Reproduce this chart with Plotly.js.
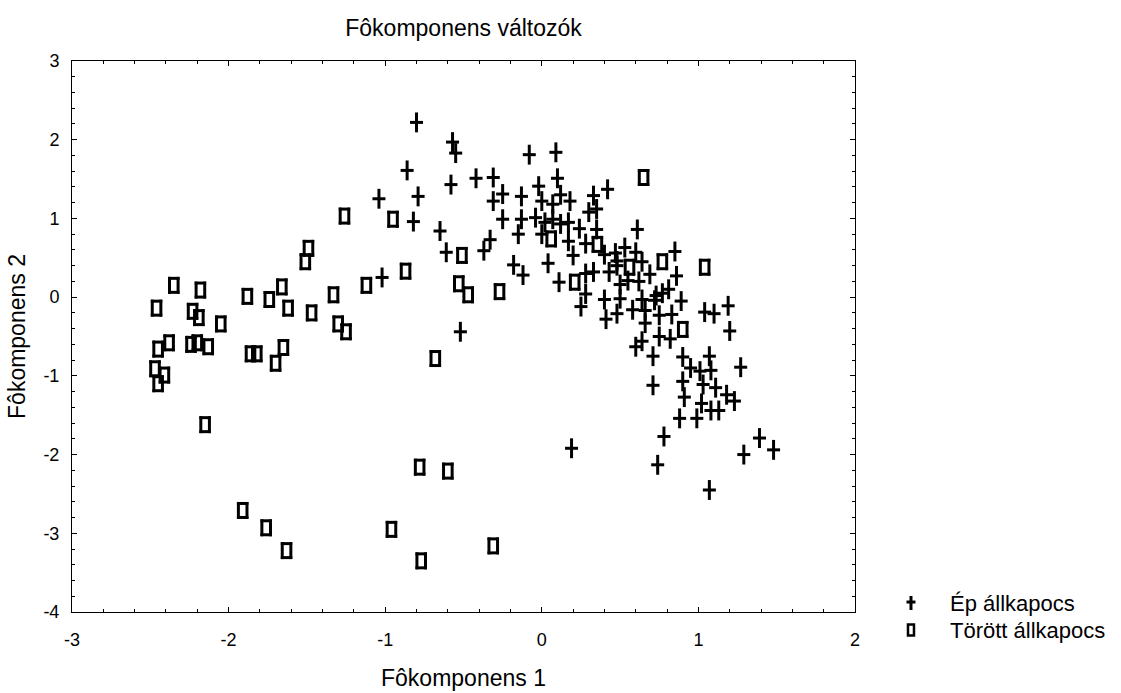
<!DOCTYPE html>
<html>
<head>
<meta charset="utf-8">
<script src="https://cdn.plot.ly/plotly-3.0.1.min.js"></script>
<style>html,body{margin:0;padding:0;background:#fff;}#chart{width:1121px;height:693px;}</style>
</head>
<body>
<div id="chart"></div>
<script>
// Ép állkapocs (intact) – Fôkomponens 1 / Fôkomponens 2
const epX = [-1.04,-1.02,-0.80,-0.86,-0.79,-0.82,-0.65,-0.61,-0.57,-0.55,-0.58,-0.52,-0.42,-0.31,-0.25,-0.31,-0.13,-0.08,0.09,0.10,-0.02,0.12,0.18,0.00,0.07,0.33,0.42,0.30,0.35,-0.25,-0.13,-0.04,0.07,0.02,0.12,0.17,0.24,0.35,-0.15,0.00,-0.33,-0.37,0.17,0.28,0.20,0.40,0.47,0.04,-0.18,-0.12,0.11,0.28,0.33,0.43,0.28,0.48,0.25,0.40,0.41,0.48,0.50,0.50,0.48,0.53,0.60,0.61,0.64,0.62,0.64,0.58,0.66,0.66,0.64,0.60,0.69,0.72,0.73,0.77,0.81,0.85,0.86,0.89,0.75,0.83,0.75,0.82,0.71,0.71,1.04,1.10,1.19,1.20,0.90,0.95,1.01,1.07,1.08,1.27,0.90,1.03,1.11,1.18,1.23,0.91,1.02,1.08,1.13,0.88,0.99,0.78,1.39,1.48,1.29,0.74,1.07,0.19,0.55];
const epY = [1.25,0.25,2.22,1.61,1.28,0.96,0.84,0.57,1.97,1.83,1.43,-0.44,1.51,1.52,1.31,1.22,1.28,1.81,1.84,1.51,1.41,1.30,1.22,1.22,1.18,1.29,1.37,1.08,1.12,0.99,0.99,1.01,0.99,0.95,0.93,0.95,0.87,0.86,0.80,0.80,0.73,0.59,0.71,0.68,0.53,0.54,0.56,0.43,0.41,0.28,0.19,0.30,0.32,0.32,0.04,0.40,-0.12,-0.03,-0.28,-0.21,-0.02,0.16,0.46,0.63,0.57,0.86,0.45,0.20,-0.03,-0.16,-0.17,-0.33,-0.56,-0.63,0.29,-0.04,0.02,0.05,0.10,0.58,0.27,-0.05,-0.23,-0.22,-0.50,-0.53,-0.75,-1.12,-0.19,-0.21,-0.11,-0.43,-0.76,-0.90,-0.94,-0.75,-0.93,-0.89,-1.07,-1.11,-1.15,-1.24,-1.32,-1.27,-1.35,-1.44,-1.44,-1.54,-1.54,-1.77,-1.79,-1.94,-2.00,-2.13,-2.45,-1.92,0.21];

// Törött állkapocs (fractured)
const torX = [-2.46,-2.35,-2.18,-2.23,-2.19,-2.05,-1.88,-1.74,-1.66,-1.62,-1.47,-1.33,-1.30,-1.25,-1.12,-2.38,-2.45,-2.47,-2.41,-2.45,-2.24,-2.20,-2.13,-1.86,-1.82,-1.65,-1.70,-2.15,-1.91,-1.76,-1.63,-0.96,-0.78,-0.77,-0.60,-0.31,-0.68,-1.26,-1.49,-1.51,-0.95,-0.87,-0.51,-0.53,-0.47,-0.27,0.06,0.355,0.21,0.56,0.77,1.04,0.90,0.65];
const torY = [-0.14,0.15,0.09,-0.18,-0.26,-0.34,0.01,-0.03,0.13,-0.14,-0.20,0.03,-0.34,-0.44,0.15,-0.58,-0.66,-0.91,-0.99,-1.10,-0.60,-0.58,-0.63,-0.72,-0.72,-0.64,-0.84,-1.62,-2.71,-2.93,-3.22,-2.95,-2.16,-3.35,-2.21,-3.16,-0.78,1.03,0.62,0.45,0.99,0.33,0.53,0.17,0.03,0.07,0.74,0.67,0.19,0.38,0.45,0.38,-0.41,1.52];

const seriesNames = ["Ép állkapocs", "Törött állkapocs"];
const xTicks = [-3,-2,-1,0,1,2];
const xTickText = ["-3","-2","-1","0","1","2"];
const yTicks = [-4,-3,-2,-1,0,1,2,3];
const yTickText = ["-4","-3","-2","-1","0","1","2","3"];

const INK = '#000000';
const FONT = 'Liberation Sans, Arial, Helvetica, sans-serif';

// rectangle marker (tall open box) built from four edge markers
function rectEdge(symbol, size, angle, standoff) {
  return {
    x: torX, y: torY, type: 'scatter', mode: 'markers', name: seriesNames[1],
    showlegend: false, hoverinfo: 'skip', cliponaxis: false,
    marker: {symbol: symbol, size: size, angle: angle, standoff: standoff,
             color: INK, line: {width: 3, color: INK}}
  };
}
function crossPart(symbol, size) {
  return {
    x: epX, y: epY, type: 'scatter', mode: 'markers', name: seriesNames[0],
    showlegend: false, hoverinfo: 'skip', cliponaxis: false,
    marker: {symbol: symbol, size: size, color: INK, line: {width: 3, color: INK}}
  };
}

const traces = [
  rectEdge('line-ew-open', 8.2, 0, 7),
  rectEdge('line-ew-open', 8.2, 180, 7),
  rectEdge('line-ew-open', 12.1, 90, 4.3),
  rectEdge('line-ew-open', 12.1, 270, 4.3),
  crossPart('line-ns-open', 14.2),
  crossPart('line-ew-open', 9.3)
];

const axisCommon = {
  showgrid: false, zeroline: false, showline: true, mirror: 'ticks',
  linecolor: INK, linewidth: 1, ticks: 'inside', ticklen: 5, tickwidth: 1, tickcolor: INK,
  tickfont: {family: FONT, size: 18, color: INK},
  minor: {dtick: 0.2, ticks: 'inside', ticklen: 3, tickwidth: 1, tickcolor: INK, showgrid: false}
};

// legend drawn as layout decoration at the right of the frame
const legendShapes = [
  {type:'line', xref:'paper', yref:'paper', xsizemode:'pixel', ysizemode:'pixel', xanchor:1.0715, yanchor:0.0163, x0:0, x1:0, y0:-7, y1:7, line:{color:INK, width:3}},
  {type:'line', xref:'paper', yref:'paper', xsizemode:'pixel', ysizemode:'pixel', xanchor:1.0715, yanchor:0.0163, x0:-4.5, x1:4.5, y0:1, y1:1, line:{color:INK, width:3}},
  {type:'rect', xref:'paper', yref:'paper', xsizemode:'pixel', ysizemode:'pixel', xanchor:1.0715, yanchor:-0.0327, x0:-3, x1:3, y0:-5.5, y1:5.5, line:{color:INK, width:2.5}}
];

const layout = {
  width: 1121, height: 693,
  paper_bgcolor: '#ffffff', plot_bgcolor: '#ffffff',
  margin: {l: 72, r: 266, t: 61, b: 81},
  font: {family: FONT, size: 18, color: INK},
  showlegend: false,
  title: {text: 'Fôkomponens változók', font: {family: FONT, size: 23, color: INK},
          x: 0.4135, xanchor: 'center', xref: 'container', y: 1 - 28/693, yanchor: 'middle', yref: 'container'},
  xaxis: Object.assign({}, axisCommon, {
    range: [-3, 2], tickvals: xTicks, ticktext: xTickText, ticklabelstandoff: 11,
    title: {text: 'Fôkomponens 1', font: {family: FONT, size: 23, color: INK}, standoff: 21}
  }),
  yaxis: Object.assign({}, axisCommon, {
    range: [-4, 3], tickvals: yTicks, ticktext: yTickText, ticklabelstandoff: 8,
    title: {text: 'Fôkomponens 2', font: {family: FONT, size: 23, color: INK}, standoff: 11}
  }),
  shapes: legendShapes,
  annotations: [
    {xref:'paper', yref:'paper', x:1.119, y:0.0163, xanchor:'left', yanchor:'middle', showarrow:false,
     text: seriesNames[0], font:{family: FONT, size: 22, color: INK}},
    {xref:'paper', yref:'paper', x:1.119, y:-0.0327, xanchor:'left', yanchor:'middle', showarrow:false,
     text: seriesNames[1], font:{family: FONT, size: 22, color: INK}}
  ]
};

Plotly.newPlot('chart', traces, layout, {displayModeBar: false, staticPlot: true});
</script>
</body>
</html>
